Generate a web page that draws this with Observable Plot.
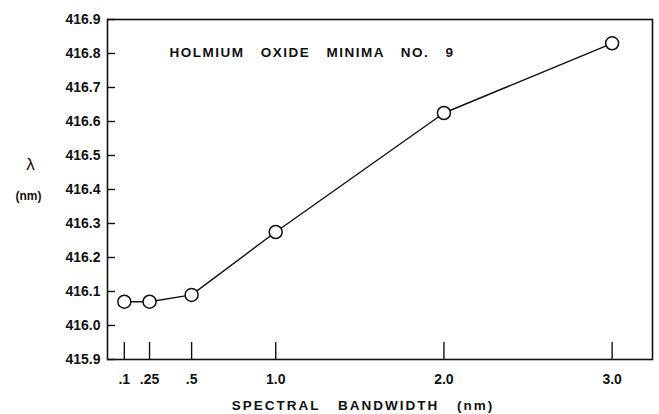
<!DOCTYPE html>
<html><head><meta charset="utf-8">
<script src="https://cdn.jsdelivr.net/npm/d3@7"></script>
<script src="https://cdn.jsdelivr.net/npm/@observablehq/plot@0.6"></script>
<style>
body{margin:0;background:#fff}
#chart svg{font-family:"Liberation Sans",Arial,sans-serif;background:#fff}
</style>
</head><body><div id="chart"></div>
<script>
const bandwidth = [0.1, 0.25, 0.5, 1.0, 2.0, 3.0];
const wavelength = [416.07, 416.07, 416.09, 416.275, 416.625, 416.83];
const xTicks = [0.1, 0.25, 0.5, 1.0, 2.0, 3.0];
const xTickLabels = [".1", ".25", ".5", "1.0", "2.0", "3.0"];
const yTicks = [415.9, 416.0, 416.1, 416.2, 416.3, 416.4, 416.5, 416.6, 416.7, 416.8, 416.9];
const yTickLabels = ["415.9", "416.0", "416.1", "416.2", "416.3", "416.4", "416.5", "416.6", "416.7", "416.8", "416.9"];
const title = "HOLMIUM OXIDE MINIMA NO. 9";
const xLabel = "SPECTRAL BANDWIDTH (nm)";
const yLabel = "λ";
const yUnit = "(nm)";

const data = bandwidth.map((b, i) => ({b, w: wavelength[i]}));
const xFmt = new Map(xTicks.map((t, i) => [t, xTickLabels[i]]));
const yFmt = new Map(yTicks.map((t, i) => [t, yTickLabels[i]]));

const W = 659, H = 414, ML = 107, MR = 7, MT = 19, MB = 55;

const chart = Plot.plot({
  width: W,
  height: H,
  marginLeft: ML,
  marginRight: MR,
  marginTop: MT,
  marginBottom: MB,
  x: {domain: [0, 3.24]},
  y: {domain: [415.9, 416.9]},
  style: {fontFamily: '"Liberation Sans", Arial, sans-serif', color: "#111"},
  marks: [
    Plot.frame({stroke: "#111", strokeWidth: 1.6}),
    Plot.axisX({ticks: xTicks, tickFormat: d => xFmt.get(d), tickSize: -17, tickPadding: 32, strokeWidth: 1.4, fontSize: 14, fontWeight: "bold", label: null}),
    Plot.axisY({ticks: yTicks, tickFormat: d => yFmt.get(d), tickSize: 0, tickPadding: 7, fontSize: 14, fontWeight: "bold", label: null}),
    Plot.tickY(yTicks, {y: d => d, stroke: "#111", strokeWidth: 1.4, insetRight: W - ML - MR - 8}),
    Plot.line(data, {x: "b", y: "w", stroke: "#111", strokeWidth: 1.4}),
    Plot.dot(data, {x: "b", y: "w", r: 6.5, fill: "white", stroke: "#111", strokeWidth: 1.5}),
    Plot.text([title], {frameAnchor: "top-left", dx: 62, dy: 28, text: d => d, fontSize: 13.5, fontWeight: "bold", textAnchor: "start", fill: "#111"}),
    Plot.text([yLabel], {frameAnchor: "top-left", dx: -77, dy: 138, text: d => d, fontSize: 17, textAnchor: "middle", fill: "#111"}),
    Plot.text([yUnit], {frameAnchor: "top-left", dx: -79, dy: 172, text: d => d, fontSize: 12, fontWeight: "bold", textAnchor: "middle", fill: "#111"}),
    Plot.text([xLabel], {frameAnchor: "bottom", dx: -17, dy: 50, text: d => d, fontSize: 13.5, fontWeight: "bold", textAnchor: "middle", fill: "#111"})
  ]
});
d3.select(chart).selectAll("text").each(function() {
  const t = this.textContent;
  if (t === title) d3.select(this).style("letter-spacing", "1.5px").style("word-spacing", "11px").style("white-space", "pre");
  if (t === xLabel) d3.select(this).style("letter-spacing", "2px").style("word-spacing", "12px").style("white-space", "pre");
});
document.getElementById("chart").append(chart);
</script>
</body></html>
